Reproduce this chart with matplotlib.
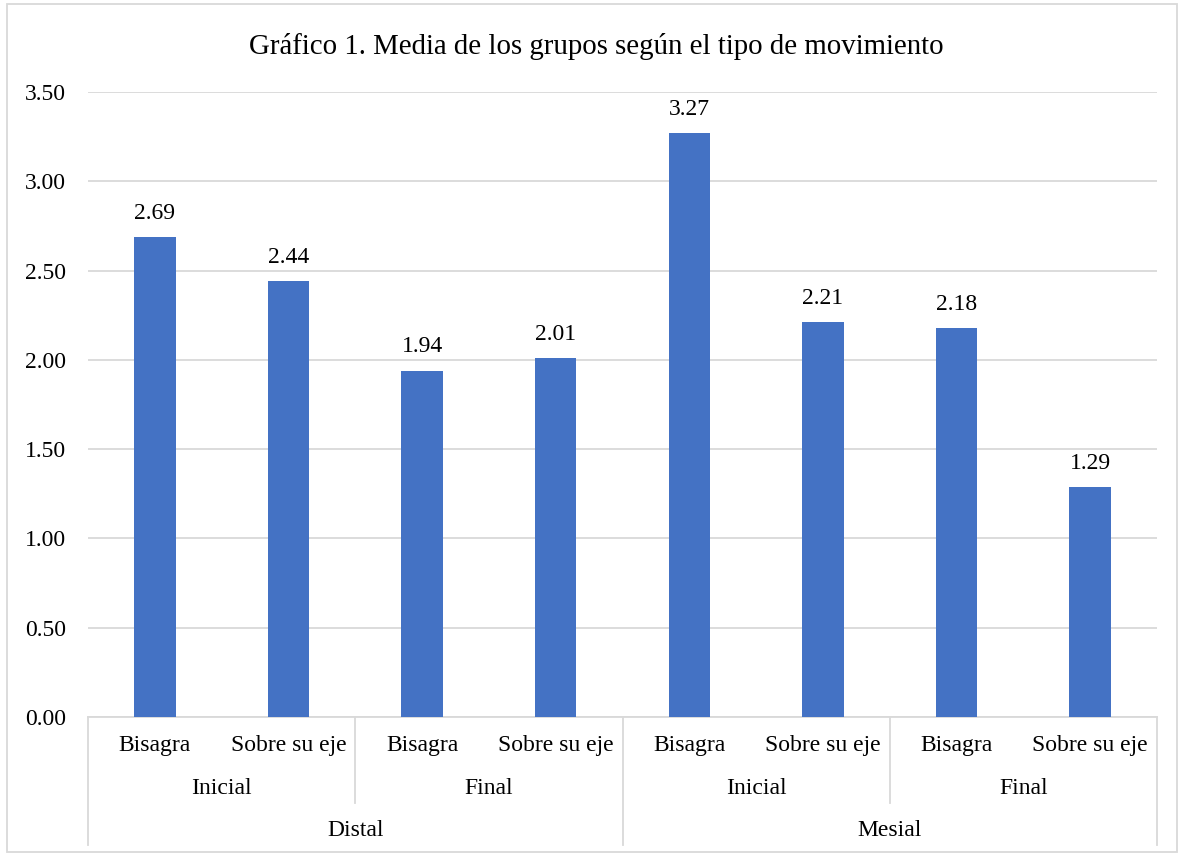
import matplotlib.pyplot as plt
from matplotlib.patches import Rectangle
import matplotlib.transforms as mtransforms

plt.rcParams["font.family"] = ["Liberation Serif", "DejaVu Serif"]

# Mean per group, ordered Distal/Mesial -> Inicial/Final -> Bisagra/Sobre su eje
movements = ["Bisagra", "Sobre su eje"] * 4
stages = ["Inicial", "Final", "Inicial", "Final"]
sides = ["Distal", "Mesial"]
means = [2.69, 2.44, 1.94, 2.01, 3.27, 2.21, 2.18, 1.29]

BAR_COLOR = "#4472C4"
GRID_COLOR = "#D9D9D9"
FS = 17

fig = plt.figure(figsize=(11.8, 8.56), dpi=100)
W, H = 1180, 856
ax = fig.add_axes([88 / W, 1 - 717 / H, (1157 - 88) / W, (717 - 92) / H])

x = list(range(len(means)))
ax.bar(x, means, width=0.31, color=BAR_COLOR, zorder=3)
for xi, v in zip(x, means):
    ax.annotate(f"{v:.2f}", (xi, v), xytext=(0, 17), textcoords="offset points",
                ha="center", va="center", fontsize=FS)

ax.set_xlim(-0.5, len(means) - 0.5)
ax.set_ylim(0, 3.5)
ax.set_yticks([i * 0.5 for i in range(8)])
ax.set_yticklabels([f"{i * 0.5:.2f}" for i in range(8)], fontsize=FS)
ax.tick_params(axis="y", length=0, pad=16)
ax.set_xticks([])
ax.yaxis.grid(True, color=GRID_COLOR, linewidth=1.3, zorder=0)
for s in ["top", "right", "left"]:
    ax.spines[s].set_visible(False)
ax.spines["bottom"].set_color(GRID_COLOR)
ax.spines["bottom"].set_linewidth(1.3)

# multi-level category axis
trans = mtransforms.blended_transform_factory(ax.transData, ax.transAxes)
line_kw = dict(color=GRID_COLOR, linewidth=1.3, transform=trans, clip_on=False)

for xi, name in zip(x, movements):
    ax.text(xi, -0.045, name, transform=trans, ha="center", va="center", fontsize=FS)

for i, name in enumerate(stages):
    ax.text(2 * i + 0.5, -0.114, name, transform=trans, ha="center", va="center", fontsize=FS)

for i, name in enumerate(sides):
    ax.text(4 * i + 1.5, -0.181, name, transform=trans, ha="center", va="center", fontsize=FS)

for b in [1.5, 5.5]:
    ax.plot([b, b], [0, -0.138], **line_kw)
for b in [-0.5, 3.5, 7.5]:
    ax.plot([b, b], [0, -0.205], **line_kw)

fig.text(0.505, 1 - 46 / H, "Gráfico 1. Media de los grupos según el tipo de movimiento",
         ha="center", va="center", fontsize=20.8)

# chart frame
fig.patches.append(Rectangle((7 / W, 4 / H), (1177 - 7) / W, (852 - 4) / H,
                             transform=fig.transFigure, fill=False,
                             edgecolor=GRID_COLOR, linewidth=1.3))

fig.savefig("out.png", dpi=100)
